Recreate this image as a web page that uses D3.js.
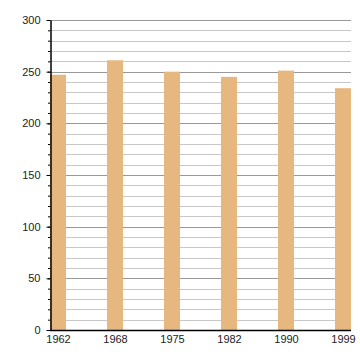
<!DOCTYPE html>
<html>
<head>
<meta charset="utf-8">
<script src="https://cdn.jsdelivr.net/npm/d3@7"></script>
<style>
  html, body { margin: 0; padding: 0; background: #fff; }
  svg { display: block; }
</style>
</head>
<body>
<div id="container"></div>
<script>
// data
years = ["1962", "1968", "1975", "1982", "1990", "1999"];
values = [247, 261, 250, 245, 251, 234];
yTicks = [0, 50, 100, 150, 200, 250, 300];

width = 360;
height = 360;
margin = {top: 20, right: 9, bottom: 30, left: 50};
barWidth = 16;

x = d3.scalePoint()
    .domain(years)
    .range([margin.left + barWidth / 2, width - margin.right - barWidth / 2]);

y = d3.scaleLinear()
    .domain([0, 300])
    .range([height - margin.bottom, margin.top]);

const svg = d3.select("div#container")
    .append("svg")
    .attr("width", width)
    .attr("height", height)
    .style("font", "11px 'Liberation Sans', Arial, sans-serif");

// minor grid every 10
svg.append("g")
    .selectAll("line")
    .data(d3.range(10, 300, 10).filter(v => v % 50 !== 0))
    .join("line")
    .attr("x1", margin.left)
    .attr("x2", width - margin.right)
    .attr("y1", d => Math.round(y(d)) + 0.5)
    .attr("y2", d => Math.round(y(d)) + 0.5)
    .attr("stroke", "#c8c8c8");

// major grid every 50
svg.append("g")
    .selectAll("line")
    .data(yTicks.slice(1))
    .join("line")
    .attr("x1", margin.left)
    .attr("x2", width - margin.right)
    .attr("y1", d => Math.round(y(d)) + 0.5)
    .attr("y2", d => Math.round(y(d)) + 0.5)
    .attr("stroke", "#999");

svg.append("g")
    .selectAll("rect")
    .data(values)
    .join("rect")
    .attr("x", (d, i) => x(years[i]) - barWidth / 2)
    .attr("y", d => y(d))
    .attr("width", barWidth)
    .attr("height", d => y(0) - y(d))
    .attr("fill", "#e6b77e");

// y axis: minor ticks then major ticks with labels
const yMinor = svg.append("g")
    .attr("transform", `translate(${margin.left},0)`)
    .call(d3.axisLeft(y).tickValues(d3.range(0, 301, 10)).tickSize(2).tickFormat(""));
yMinor.select(".domain").remove();
yMinor.selectAll("line").attr("stroke", "#000");

const yAxis = svg.append("g")
    .attr("transform", `translate(${margin.left + 0.5},0)`)
    .call(d3.axisLeft(y).tickValues(yTicks).tickSize(4).tickPadding(6).tickSizeOuter(0));
yAxis.select(".domain").attr("stroke", "#000").attr("stroke-width", 1.5);
yAxis.selectAll("text").attr("fill", "#222").style("font-size", "11px");

const xAxis = svg.append("g")
    .attr("transform", `translate(0,${height - margin.bottom + 0.5})`)
    .call(d3.axisBottom(x).tickSize(0).tickPadding(5).tickSizeOuter(0));
xAxis.select(".domain")
    .attr("d", `M${margin.left},0H${width - margin.right}`)
    .attr("stroke", "#000").attr("stroke-width", 1.5);
xAxis.selectAll("text").attr("fill", "#222").style("font-size", "11px");
</script>
</body>
</html>
